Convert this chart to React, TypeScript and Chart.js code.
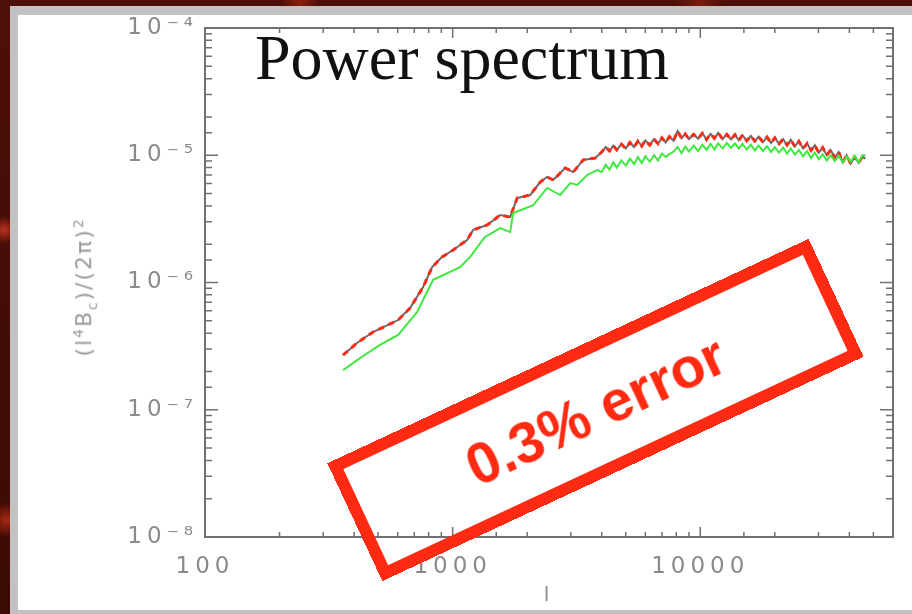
import React, { useEffect, useRef } from 'react';
import { Chart, registerables } from 'chart.js';

Chart.register(...registerables);

// ---- data ----
// low-l part, red/black (identical) curve
const redLowL = [361, 411, 477, 602, 673, 760, 826, 907, 1005, 1144, 1210, 1379, 1556, 1707, 1822, 2056, 2257, 2409, 2547, 2848, 3068, 3368, 3765];
const redLowV = [2.69e-7, 3.35e-7, 4.08e-7, 5.07e-7, 6.30e-7, 9.22e-7, 1.32e-6, 1.59e-6, 1.80e-6, 2.16e-6, 2.59e-6, 2.83e-6, 3.39e-6, 3.27e-6, 4.61e-6, 4.87e-6, 6.16e-6, 6.75e-6, 6.39e-6, 7.94e-6, 7.38e-6, 9.18e-6, 9.51e-6];
// low-l part, green curve
const greenLowL = [361, 423, 509, 602, 719, 834, 1072, 1177, 1350, 1556, 1707, 1756, 2115, 2409, 2719, 2984, 3184, 3495, 3835];
const greenLowV = [2.05e-7, 2.55e-7, 3.23e-7, 3.87e-7, 5.86e-7, 1.05e-6, 1.32e-6, 1.59e-6, 2.28e-6, 2.68e-6, 2.49e-6, 3.52e-6, 4.06e-6, 5.53e-6, 4.87e-6, 6.05e-6, 5.84e-6, 7.0e-6, 7.66e-6];
// high-l (noisy) part, shared multipoles; values in units of 1e-5
const HI_UNIT = 1e-5;
const hiL = [
  4000, 4150, 4300, 4450, 4600, 4800, 5000, 5200, 5400, 5600,
  5800, 6000, 6250, 6500, 6750, 7000, 7250, 7500, 7800, 8100,
  8400, 8700, 9000, 9400, 9800, 10200, 10600, 11000, 11400, 11800,
  12300, 12800, 13300, 13800, 14300, 14800, 15400, 16000, 16600, 17200,
  17900, 18600, 19300, 20000, 20800, 21600, 22400, 23200, 24100, 25000,
  26000, 27000, 28000, 29000, 30100, 31200, 32400, 33600, 34900, 36200,
  37600, 39000, 40500, 42000, 43600, 45200, 46400,
];
const redHiV = [
  1.06, 1.16, 1.08, 1.19, 1.10, 1.22, 1.13, 1.26, 1.16, 1.29,
  1.18, 1.31, 1.20, 1.34, 1.23, 1.37, 1.26, 1.40, 1.30, 1.55,
  1.36, 1.47, 1.34, 1.46, 1.35, 1.49, 1.33, 1.47, 1.36, 1.50,
  1.34, 1.46, 1.33, 1.45, 1.31, 1.44, 1.30, 1.42, 1.29, 1.40,
  1.27, 1.39, 1.25, 1.37, 1.23, 1.34, 1.20, 1.32, 1.17, 1.29,
  1.13, 1.24, 1.09, 1.20, 1.05, 1.15, 1.00, 1.10, 0.96, 1.06,
  0.88, 1.00, 0.86, 0.97, 0.87, 0.98, 0.94,
];
const greenHiV = [
  0.74, 0.84, 0.77, 0.88, 0.80, 0.91, 0.83, 0.94, 0.85, 0.97,
  0.87, 0.98, 0.89, 1.00, 0.91, 1.03, 0.97, 1.02, 1.07, 1.16,
  1.04, 1.17, 1.07, 1.19, 1.08, 1.21, 1.10, 1.23, 1.11, 1.24,
  1.13, 1.25, 1.14, 1.24, 1.13, 1.23, 1.11, 1.21, 1.09, 1.19,
  1.08, 1.18, 1.06, 1.16, 1.05, 1.15, 1.03, 1.13, 1.01, 1.10,
  0.98, 1.08, 0.95, 1.05, 0.93, 1.02, 0.91, 1.00, 0.90, 0.99,
  0.88, 0.98, 0.89, 0.99, 0.88, 1.00, 1.00,
];

const xMajor = [100, 1000, 10000];
const xLabels = ['100', '1000', '10000'];
const yMajor = [1e-8, 1e-7, 1e-6, 1e-5, 1e-4];
const yLabels = ['10\u207B\u2078', '10\u207B\u2077', '10\u207B\u2076', '10\u207B\u2075', '10\u207B\u2074'];
const X_MIN = 100;
const X_MAX = 60000;
const Y_MIN = 1e-8;
const Y_MAX = 1e-4;

const TITLE = 'Power spectrum';
const X_TITLE = 'l';
const NOTE = '0.3% error';

function buildPoints(l1: number[], v1: number[], l2: number[], v2: number[], unit2: number) {
  const pts = l1.map((l, i) => ({ x: l, y: v1[i] }));
  l2.forEach((l, i) => pts.push({ x: l, y: v2[i] * unit2 }));
  return pts;
}

function matchLabel(value: number, majors: number[], labels: string[]) {
  const i = majors.findIndex((m) => Math.abs(m - value) / m < 1e-6);
  return i >= 0 ? labels[i] : '';
}

const AXIS = '#707070';
const TICK_FONT = { family: '"DejaVu Sans", sans-serif', size: 23 };

const idlBoxPlugin = {
  id: 'idlBox',
  beforeDraw(chart: any) {
    (chart.ctx as any).letterSpacing = '5px';
  },
  afterDraw(chart: any) {
    const ctx = chart.ctx;
    ctx.save();
    (ctx as any).letterSpacing = '0px';
    const { left, right, top, bottom } = chart.chartArea;
    const xs = chart.scales.x;
    const ys = chart.scales.y;
    ctx.strokeStyle = AXIS;
    ctx.lineWidth = 2;
    ctx.strokeRect(left, top, right - left, bottom - top);
    ctx.lineWidth = 1.5;
    ctx.beginPath();
    xs.ticks.forEach((t: any) => {
      const px = xs.getPixelForValue(t.value);
      if (px <= left + 1 || px >= right - 1) return;
      const major = xMajor.some((m) => Math.abs(m - t.value) / m < 1e-6);
      const len = major ? 10 : 5;
      ctx.moveTo(px, bottom);
      ctx.lineTo(px, bottom - len);
      ctx.moveTo(px, top);
      ctx.lineTo(px, top + len);
    });
    ys.ticks.forEach((t: any) => {
      const py = ys.getPixelForValue(t.value);
      if (py <= top + 1 || py >= bottom - 1) return;
      const major = yMajor.some((m) => Math.abs(m - t.value) / m < 1e-6);
      const len = major ? 13 : 7;
      ctx.moveTo(left, py);
      ctx.lineTo(left + len, py);
      ctx.moveTo(right, py);
      ctx.lineTo(right - len, py);
    });
    ctx.stroke();
    ctx.restore();
  },
};

export default function App() {
  const canvasRef = useRef<HTMLCanvasElement | null>(null);

  useEffect(() => {
    const canvas = canvasRef.current;
    if (!canvas) return;
    const redPts = buildPoints(redLowL, redLowV, hiL, redHiV, HI_UNIT);
    const greenPts = buildPoints(greenLowL, greenLowV, hiL, greenHiV, HI_UNIT);
    const chart = new Chart(canvas, {
      type: 'line',
      data: {
        datasets: [
          {
            label: 'green',
            data: greenPts,
            borderColor: '#3fe83f',
            borderWidth: 2,
            pointRadius: 0,
            tension: 0,
          },
          {
            label: 'red',
            data: redPts,
            borderColor: '#ff2a14',
            borderWidth: 3,
            borderDash: [6, 5],
            pointRadius: 0,
            tension: 0,
          },
          {
            label: 'black',
            data: redPts,
            borderColor: '#6a6a6a',
            borderWidth: 2,
            pointRadius: 0,
            tension: 0,
          },
        ],
      },
      options: {
        animation: false,
        responsive: false,
        devicePixelRatio: 1,
        layout: { padding: { left: 0, top: 28, right: 19, bottom: 0 } },
        plugins: { legend: { display: false }, tooltip: { enabled: false }, title: { display: false } },
        events: [],
        scales: {
          x: {
            type: 'logarithmic',
            min: X_MIN,
            max: X_MAX,
            grid: { display: false, drawTicks: false },
            border: { display: false },
            ticks: {
              autoSkip: false,
              maxRotation: 0,
              minRotation: 0,
              padding: 16,
              color: '#8a8a8a',
              font: TICK_FONT,
              callback: (v: any) => matchLabel(Number(v), xMajor, xLabels),
            },
            title: {
              display: true,
              text: X_TITLE,
              color: '#8a8a8a',
              font: { family: '"DejaVu Sans", sans-serif', size: 20 },
              padding: { top: 0, bottom: 6 },
            },
            afterFit: (s: any) => {
              s.height = 77;
            },
          },
          y: {
            type: 'logarithmic',
            min: Y_MIN,
            max: Y_MAX,
            grid: { display: false, drawTicks: false },
            border: { display: false },
            ticks: {
              autoSkip: false,
              padding: 7,
              color: '#8a8a8a',
              font: TICK_FONT,
              callback: (v: any) => matchLabel(Number(v), yMajor, yLabels),
            },
            afterFit: (s: any) => {
              s.width = 205;
            },
          },
        },
      } as any,
      plugins: [idlBoxPlugin],
    });
    return () => chart.destroy();
  }, []);

  const red = '#ff2a12';
  return (
    <div
      style={{
        position: 'fixed',
        left: 0,
        top: 0,
        width: 912,
        height: 614,
        overflow: 'hidden',
        background:
          'radial-gradient(circle at 4px 230px, #b8321a 0, rgba(0,0,0,0) 14px), radial-gradient(circle at 6px 520px, #a42a12 0, rgba(0,0,0,0) 18px), radial-gradient(circle at 300px 2px, #8a2010 0, rgba(0,0,0,0) 20px), radial-gradient(circle at 700px 3px, #7a1c0e 0, rgba(0,0,0,0) 24px), linear-gradient(#4c1008, #3a0a05)',
      }}
    >
      <div style={{ position: 'absolute', left: 10, top: 6, right: 0, bottom: 0, background: '#c2c2c2' }} />
      <div style={{ position: 'absolute', left: 18, top: 15, right: 0, bottom: 4, background: '#ffffff' }} />
      <canvas
        ref={canvasRef}
        width={912}
        height={614}
        style={{ position: 'absolute', left: 0, top: 0, width: 912, height: 614 }}
      />
      <div
        style={{
          position: 'absolute',
          left: 255,
          top: 26,
          fontFamily: '"Liberation Serif", "Times New Roman", serif',
          fontSize: 64,
          lineHeight: '64px',
          color: '#111111',
          whiteSpace: 'nowrap',
        }}
      >
        {TITLE}
      </div>
      <div
        style={{
          position: 'absolute',
          left: 85,
          top: 287,
          transform: 'translate(-50%, -50%) rotate(-90deg)',
          fontFamily: '"DejaVu Sans", sans-serif',
          fontSize: 22,
          letterSpacing: 2,
          color: '#9a9a9a',
          whiteSpace: 'nowrap',
          lineHeight: '30px',
        }}
      >
        (l<sup style={{ fontSize: '0.62em' }}>4</sup>B<sub style={{ fontSize: '0.62em' }}>c</sub>)/(2π)
        <sup style={{ fontSize: '0.62em' }}>2</sup>
      </div>
      <div
        style={{
          position: 'absolute',
          left: 595 - 265.5,
          top: 410 - 65,
          width: 531,
          height: 130,
          boxSizing: 'border-box',
          border: `12px solid ${red}`,
          transform: 'rotate(-25deg)',
          transformOrigin: 'center',
          display: 'flex',
          alignItems: 'center',
          justifyContent: 'center',
          fontFamily: '"Liberation Sans", Arial, sans-serif',
          fontWeight: 'bold',
          fontSize: 57,
          color: red,
          whiteSpace: 'nowrap',
        }}
      >
        {NOTE}
      </div>
    </div>
  );
}
